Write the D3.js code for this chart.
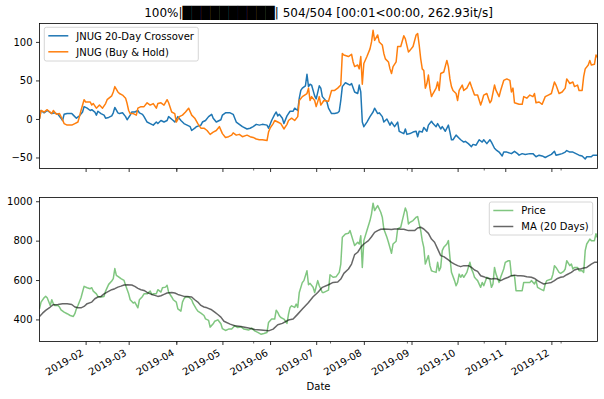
<!DOCTYPE html>
<html>
<head>
<meta charset="utf-8">
<script src="https://cdn.jsdelivr.net/npm/d3@7"></script>
<style>
  body { margin: 0; background: #fff; }
  svg { display: block; font-family: "DejaVu Sans", sans-serif; }
</style>
</head>
<body>
<svg id="chart" width="604" height="399"></svg>
<script>
// days counted from 2019-01-01
const crossover = [[1,0],[2,11],[4,8],[6,11],[9,7],[11,8],[13,6],[15,1],[16,-2],[17,6],[19,7],[22,7],[23,5],[25,1],[27,4],[29,9],[30,16],[32,14],[34,11],[35,12],[37,9],[38,5],[39,10],[41,7],[43,5],[44,1],[46,2],[48,4],[49,8],[50,15],[52,8],[53,7],[55,8],[57,3],[58,-1],[60,5],[61,9],[63,9],[65,11],[66,8],[68,6],[69,3],[71,-4],[73,-6],[75,-8],[77,-4],[78,-6],[80,-2],[82,-4],[84,-2],[85,3],[88,-2],[89,-4],[91,3],[93,-2],[95,-6],[97,-8],[99,-10],[100,-15],[102,-12],[103,-10],[106,-8],[107,-4],[109,-2],[111,3],[113,6],[114,1],[116,-4],[119,-1],[120,5],[122,8],[125,8],[127,6],[129,-4],[131,-7],[133,-10],[136,-13],[138,-12],[140,-10],[142,-7],[144,-8],[146,-7],[149,-8],[150,-12],[152,-2],[154,6],[155,9],[156,4],[157,6],[159,1],[160,-6],[162,4],[164,10],[166,10],[167,14],[169,11],[170,27],[171,37],[172,40],[174,43],[175,58],[176,42],[177,45],[178,44],[180,30],[181,26],[183,43],[184,40],[185,29],[188,22],[189,14],[191,7],[193,7],[195,8],[196,10],[197,24],[198,42],[200,47],[203,44],[204,46],[206,35],[208,33],[209,44],[210,35],[211,-4],[212,-10],[214,-4],[216,3],[218,9],[219,14],[221,7],[222,8],[224,3],[225,-4],[227,0],[229,-8],[230,-4],[232,-10],[234,-4],[235,-16],[236,-17],[238,-19],[239,-13],[240,-20],[242,-19],[244,-17],[246,-16],[247,-23],[248,-16],[250,-17],[251,-11],[253,-16],[254,-8],[256,-3],[257,-6],[259,-10],[260,-6],[262,-13],[263,-10],[265,-16],[267,-8],[268,-17],[269,-27],[270,-27],[272,-21],[274,-25],[275,-27],[277,-30],[278,-29],[280,-32],[282,-36],[283,-33],[285,-34],[287,-27],[289,-30],[290,-27],[292,-32],[294,-27],[295,-30],[297,-38],[298,-40],[300,-43],[302,-48],[303,-43],[305,-43],[308,-45],[310,-42],[312,-45],[313,-47],[315,-45],[317,-46],[320,-45],[322,-45],[324,-49],[326,-47],[328,-48],[330,-50],[332,-48],[334,-46],[336,-42],[337,-47],[339,-46],[341,-45],[343,-43],[344,-41],[346,-43],[348,-43],[350,-45],[352,-47],[354,-48],[356,-52],[357,-49],[360,-49],[361,-47],[363,-47],[364,-47]];

const buyHold = [[1,0],[2,11],[4,9],[6,12],[9,7],[10,11],[12,6],[14,7],[16,-1],[17,-6],[19,-8],[22,-8],[24,-6],[26,-4],[27,3],[28,11],[30,25],[31,22],[34,22],[35,18],[36,20],[38,14],[40,18],[42,14],[44,20],[45,25],[48,30],[49,35],[50,42],[52,35],[53,33],[55,31],[57,27],[58,20],[59,11],[60,7],[62,7],[64,5],[65,14],[67,16],[69,16],[71,21],[73,18],[75,20],[77,14],[78,20],[80,21],[82,18],[84,25],[85,21],[87,9],[89,7],[90,-4],[92,3],[94,5],[96,9],[98,14],[100,5],[102,1],[104,-6],[106,-12],[108,-12],[110,-15],[112,-20],[114,-17],[116,-15],[118,-10],[120,-19],[122,-24],[124,-23],[126,-21],[127,-18],[129,-21],[131,-20],[133,-23],[136,-21],[138,-23],[140,-24],[142,-26],[144,-27],[146,-27],[149,-28],[150,-17],[151,-12],[153,-6],[154,-2],[156,-4],[158,-6],[160,-13],[162,-7],[163,-2],[165,1],[167,-2],[169,3],[170,24],[172,29],[175,33],[176,40],[177,24],[178,29],[180,24],[181,16],[183,29],[184,18],[186,24],[189,23],[191,37],[193,37],[195,40],[197,44],[198,85],[199,83],[202,81],[204,84],[205,74],[206,68],[208,70],[209,65],[210,81],[211,45],[212,72],[214,81],[216,91],[217,100],[218,115],[219,102],[221,109],[222,100],[224,96],[225,85],[226,78],[228,74],[229,65],[230,59],[231,68],[233,74],[234,94],[236,94],[238,108],[239,104],[241,87],[242,89],[244,94],[246,109],[247,111],[248,96],[249,78],[250,65],[251,63],[252,40],[253,46],[254,57],[255,40],[256,29],[257,33],[259,40],[260,48],[261,37],[262,59],[264,61],[266,76],[267,68],[268,52],[269,42],[270,37],[272,33],[273,24],[274,37],[276,44],[277,37],[279,40],[281,48],[282,42],[284,31],[286,31],[288,18],[289,24],[290,31],[292,33],[294,21],[295,24],[297,44],[298,37],[300,29],[301,37],[303,50],[305,52],[307,50],[308,35],[309,40],[310,21],[313,19],[315,19],[316,29],[318,27],[320,31],[322,29],[323,33],[324,21],[326,22],[328,19],[330,29],[332,31],[334,33],[336,48],[337,44],[339,33],[341,35],[343,40],[344,52],[346,46],[348,48],[349,42],[351,44],[352,37],[354,37],[355,55],[356,65],[358,70],[359,76],[360,70],[362,71],[363,83],[364,80]];

const price = [[1,454],[2,488],[4,510],[5,517],[6,510],[8,471],[9,500],[10,480],[11,471],[13,471],[14,463],[15,449],[17,437],[19,429],[21,420],[23,415],[24,429],[25,454],[26,471],[28,510],[29,539],[30,568],[32,561],[34,556],[35,561],[36,544],[38,530],[39,517],[41,514],[43,517],[44,544],[46,578],[48,595],[49,607],[50,658],[51,624],[52,619],[54,607],[56,598],[57,573],[59,530],[60,500],[62,483],[63,488],[65,459],[66,500],[68,517],[69,530],[71,530],[73,544],[74,527],[75,530],[77,530],[78,551],[80,539],[81,561],[83,564],[84,573],[85,539],[87,514],[88,500],[90,488],[91,454],[93,442],[94,488],[95,505],[96,514],[98,514],[100,500],[101,480],[103,454],[104,442],[106,432],[108,420],[109,403],[111,395],[112,361],[114,378],[115,391],[117,398],[119,378],[120,353],[122,344],[124,351],[126,351],[128,368],[130,359],[132,363],[134,351],[137,346],[139,356],[141,342],[143,334],[145,325],[147,329],[149,334],[150,385],[152,402],[154,402],[155,447],[156,436],[157,419],[158,410],[160,402],[162,380],[163,427],[164,461],[165,469],[167,461],[168,478],[169,461],[170,537],[172,588],[173,597],[175,647],[176,576],[177,583],[179,563],[180,537],[182,597],[183,571],[185,537],[186,537],[189,549],[190,627],[192,614],[194,617],[196,639],[197,681],[198,817],[200,834],[202,837],[203,851],[205,800],[206,775],[208,792],[209,783],[210,825],[211,664],[212,800],[214,851],[216,902],[217,936],[218,990],[219,953],[221,978],[223,944],[224,919],[225,859],[227,817],[228,792],[230,736],[231,783],[233,797],[234,859],[236,868],[237,902],[239,966],[240,944],[241,885],[242,893],[244,902],[246,919],[247,922],[248,885],[249,851],[250,800],[251,766],[252,681],[254,724],[255,673],[256,647],[257,644],[259,639],[260,690],[261,647],[262,664],[263,749],[264,766],[266,783],[267,800],[268,715],[269,639],[271,597],[272,571],[273,588],[274,630],[275,614],[276,627],[277,614],[279,639],[281,690],[282,656],[283,639],[284,614],[285,605],[286,597],[288,563],[289,588],[290,571],[292,614],[294,605],[295,563],[296,580],[297,664],[298,630],[300,588],[301,614],[303,656],[304,690],[306,698],[307,698],[308,622],[310,622],[311,546],[313,546],[315,546],[316,588],[318,588],[320,588],[321,597],[323,580],[324,597],[325,563],[327,554],[329,546],[330,580],[331,597],[334,605],[335,630],[336,673],[337,664],[339,639],[340,634],[342,644],[343,656],[344,698],[346,673],[347,681],[348,656],[349,664],[351,664],[352,647],[354,647],[355,639],[356,749],[357,783],[359,808],[360,800],[362,800],[363,835],[364,815]];

const ma20 = [[1,415],[3,432],[5,446],[8,463],[10,475],[13,476],[16,480],[19,480],[22,476],[24,463],[26,459],[28,459],[30,466],[32,480],[35,488],[37,505],[39,514],[41,517],[43,530],[45,539],[48,551],[50,556],[52,564],[54,569],[56,575],[58,576],[61,575],[63,568],[65,558],[67,551],[69,547],[71,537],[74,527],[76,522],[78,517],[80,520],[82,527],[84,534],[87,537],[89,534],[91,527],[93,522],[95,517],[97,517],[100,514],[102,500],[104,488],[106,471],[108,463],[110,459],[113,449],[115,437],[117,425],[119,412],[121,391],[125,376],[128,368],[132,364],[137,356],[141,349],[145,346],[150,342],[153,351],[156,373],[159,380],[163,397],[166,402],[169,427],[172,453],[176,486],[179,515],[182,537],[185,563],[189,576],[192,588],[195,590],[197,605],[199,634],[202,656],[204,681],[206,729],[208,741],[210,766],[212,783],[215,800],[217,820],[219,842],[221,851],[223,858],[225,859],[228,858],[230,856],[232,859],[234,859],[236,858],[238,858],[241,851],[245,851],[247,864],[249,868],[251,859],[254,837],[256,808],[258,792],[260,758],[262,724],[264,719],[267,702],[269,690],[271,681],[273,673],[275,668],[277,673],[280,673],[282,664],[284,651],[286,644],[288,622],[290,617],[292,610],[295,605],[297,608],[299,605],[301,597],[303,605],[306,614],[308,622],[310,625],[312,622],[314,622],[316,620],[318,617],[321,614],[323,608],[325,597],[327,588],[329,580],[331,583],[334,588],[336,597],[338,608],[340,614],[342,617],[344,627],[347,639],[349,651],[351,656],[353,656],[355,661],[357,664],[360,681],[362,690],[364,690]];

const topLabels = ["JNUG 20-Day Crossover", "JNUG (Buy & Hold)"];
const bottomLabels = ["Price", "MA (20 Days)"];
const yTicksTop = [-50, 0, 50, 100];
const yTicksBottom = [400, 600, 800, 1000];
const minorTickDays = [40, 90, 140, 190, 240, 290, 340];
const titleText = "100%|\u2588\u2588\u2588\u2588\u2588\u2588\u2588\u2588\u2588\u2588| 504/504 [00:01<00:00, 262.93it/s]";

const day0 = new Date(2019, 0, 1);
const toDate = (d) => d3.timeDay.offset(day0, d);

const svg = d3.select("#chart");
const left = 39.5, right = 597.5;
const topPanel = { top: 23.5, bottom: 168.5 };
const botPanel = { top: 197.5, bottom: 341.5 };

const x = d3.scaleTime().domain([toDate(1), toDate(364)]).range([left, right]);
const yTop = d3.scaleLinear().domain([-64.3, 123.9]).range([topPanel.bottom, topPanel.top]);
const yBot = d3.scaleLinear().domain([288, 1019]).range([botPanel.bottom, botPanel.top]);

const monthTicks = d3.timeMonth.range(toDate(31), toDate(365));

const drawPanel = (panel, y, yTicks, id, showLabels) => {
  svg.append("clipPath").attr("id", id)
    .append("rect")
    .attr("x", left).attr("y", panel.top)
    .attr("width", right - left).attr("height", panel.bottom - panel.top);

  const yAxis = svg.append("g")
    .attr("transform", `translate(${left},0)`)
    .call(d3.axisLeft(y).tickValues(yTicks).tickSize(3.5).tickPadding(3.5)
      .tickFormat(d3.format("d")));
  yAxis.select(".domain").remove();
  yAxis.selectAll("text").attr("font-size", 10).attr("font-family", "DejaVu Sans").attr("fill", "#000");
  yAxis.selectAll("line").attr("stroke", "#000").attr("stroke-width", 0.8);

  const minor = svg.append("g")
    .attr("transform", `translate(0,${panel.bottom})`)
    .call(d3.axisBottom(x).tickValues(minorTickDays.map(toDate)).tickSize(2).tickFormat(""));
  minor.select(".domain").remove();
  minor.selectAll("line").attr("stroke", "#000").attr("stroke-width", 0.6);

  const xAxis = svg.append("g")
    .attr("transform", `translate(0,${panel.bottom})`)
    .call(d3.axisBottom(x).tickValues(monthTicks).tickSize(3.5)
      .tickFormat(showLabels ? d3.timeFormat("%Y-%m") : ""));
  xAxis.select(".domain").remove();
  xAxis.selectAll("line").attr("stroke", "#000").attr("stroke-width", 0.8);
  xAxis.selectAll("text")
    .attr("font-size", 10).attr("font-family", "DejaVu Sans").attr("fill", "#000")
    .attr("text-anchor", "end")
    .attr("x", 0).attr("y", 0).attr("dy", "0.73em")
    .attr("transform", "translate(-5.5,7) rotate(-30)");
};

drawPanel(topPanel, yTop, yTicksTop, "clipTop", false);
drawPanel(botPanel, yBot, yTicksBottom, "clipBot", true);

const lineTop = d3.line().x((d) => x(toDate(d[0]))).y((d) => yTop(d[1]));
const lineBot = d3.line().x((d) => x(toDate(d[0]))).y((d) => yBot(d[1]));

const topSeries = [
  { data: crossover, color: "#1f77b4", opacity: 1 },
  { data: buyHold, color: "#ff7f0e", opacity: 1 },
];
const botSeries = [
  { data: price, color: "#2ca02c", opacity: 0.6 },
  { data: ma20, color: "#000000", opacity: 0.6 },
];

svg.append("g").attr("clip-path", "url(#clipTop)")
  .selectAll("path").data(topSeries).join("path")
  .attr("d", (s) => lineTop(s.data))
  .attr("fill", "none").attr("stroke", (s) => s.color)
  .attr("stroke-opacity", (s) => s.opacity)
  .attr("stroke-width", 1.5).attr("stroke-linejoin", "round");

svg.append("g").attr("clip-path", "url(#clipBot)")
  .selectAll("path").data(botSeries).join("path")
  .attr("d", (s) => lineBot(s.data))
  .attr("fill", "none").attr("stroke", (s) => s.color)
  .attr("stroke-opacity", (s) => s.opacity)
  .attr("stroke-width", 1.5).attr("stroke-linejoin", "round");

// spines
[topPanel, botPanel].forEach((p) => {
  svg.append("rect")
    .attr("x", left).attr("y", p.top)
    .attr("width", right - left).attr("height", p.bottom - p.top)
    .attr("fill", "none").attr("stroke", "#000").attr("stroke-width", 0.8);
});

const drawLegend = (bx, by, bw, bh, labels, series) => {
  const g = svg.append("g");
  g.append("rect")
    .attr("x", bx).attr("y", by).attr("width", bw).attr("height", bh)
    .attr("rx", 2).attr("fill", "#fff").attr("fill-opacity", 0.8)
    .attr("stroke", "#cccccc").attr("stroke-width", 0.8);
  labels.forEach((label, i) => {
    const cy = by + 8.5 + i * 16;
    g.append("line")
      .attr("x1", bx + 4).attr("x2", bx + 24).attr("y1", cy).attr("y2", cy)
      .attr("stroke", series[i].color).attr("stroke-opacity", series[i].opacity)
      .attr("stroke-width", 1.5);
    g.append("text")
      .attr("x", bx + 32).attr("y", cy + 3.7)
      .attr("font-size", 10).attr("fill", "#000")
      .text(label);
  });
};

drawLegend(44.3, 27.3, 154, 33.7, topLabels, topSeries);
drawLegend(489.3, 202, 103.4, 33, bottomLabels, botSeries);

svg.append("text")
  .attr("x", (left + right) / 2).attr("y", 17.3)
  .attr("text-anchor", "middle").attr("font-size", 12).attr("fill", "#000")
  .text(titleText);

svg.append("text")
  .attr("x", (left + right) / 2).attr("y", 390)
  .attr("text-anchor", "middle").attr("font-size", 10).attr("fill", "#000")
  .text("Date");
</script>
</body>
</html>
